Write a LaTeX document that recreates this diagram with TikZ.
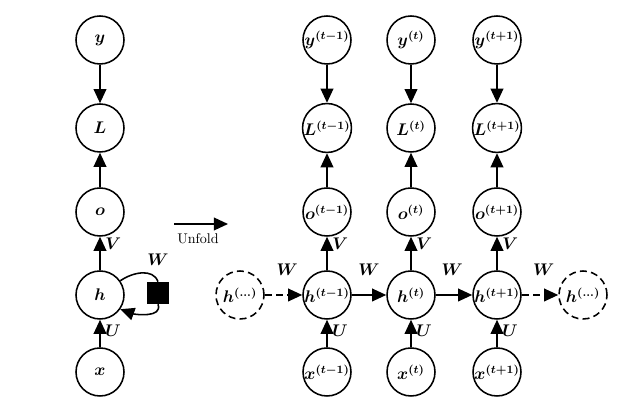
\documentclass[tikz,border=0pt]{standalone}
\usepackage{amsmath}
\usepackage{bm}
\usetikzlibrary{
    arrows.meta,
    positioning
}
\tikzset{
    unit/.style={circle, draw, line width=1.1pt, minimum size=1.2cm, inner sep=0pt, font=\large},
    ghost/.style={unit, dash pattern=on 5pt off 3pt},
    flow/.style={line width=1.1pt, -{Triangle[length=10pt,width=9pt]}},
    lbl/.style={font=\large}
}
\begin{document}
\begin{tikzpicture}
                                \useasboundingbox (0, 0) rectangle (16.1, 10.4);
                                % folded graph
                                \node[unit] (y) at (2.5, 9.4) {$\bm{y}$};
                                \node[unit] (L) at (2.5, 7.2) {$\bm{L}$};
                                \node[unit] (o) at (2.5, 5.1) {$\bm{o}$};
                                \node[unit] (h) at (2.5, 3.025) {$\bm{h}$};
                                \node[unit] (x) at (2.5, 1.1) {$\bm{x}$};
                                \node[fill, minimum size=0.55cm, inner sep=0pt] (sq) at (3.95, 3.075) {};
                                \draw[flow] (y) -- (L);
                                \draw[flow] (o) -- (L);
                                \draw[flow] (h) -- node[lbl, right, pos=0.8] {$\bm{V}$} (o);
                                \draw[flow] (x) -- node[lbl, right, pos=0.6] {$\bm{U}$} (h);
                                \draw[line width=1.1pt] (h.35) to[out=35, in=110] (sq.north);
                                \draw[flow] (sq.south) to[out=-70, in=-20] (h.-35);
                                \node[lbl] (wl) at (3.95, 3.9) {$\bm{W}$};
                                % unfold arrow
                                \coordinate (ua) at (4.35, 4.8);
                                \coordinate (ub) at (5.7, 4.8);
                                \draw[flow] (ua) -- (ub);
                                \node[below=3pt of ua, xshift=0.6cm] (unf) {Unfold};
                                % unfolded graph
                                \node[ghost] (hl) at (6.0, 3.025) {$\bm{h}^{\bm{(\ldots)}}$};
                                \node[ghost] (hr) at (14.575, 3.025) {$\bm{h}^{\bm{(\ldots)}}$};
                                \foreach \n/\px/\s in {a/8.175/t-1, b/10.275/t, c/12.425/t+1} {
                                    \node[unit] (y\n) at (\px, 9.4) {$\bm{y}^{\bm{(\s)}}$};
                                    \node[unit] (L\n) at (\px, 7.2) {$\bm{L}^{\bm{(\s)}}$};
                                    \node[unit] (o\n) at (\px, 5.1) {$\bm{o}^{\bm{(\s)}}$};
                                    \node[unit] (h\n) at (\px, 3.025) {$\bm{h}^{\bm{(\s)}}$};
                                    \node[unit] (x\n) at (\px, 1.1) {$\bm{x}^{\bm{(\s)}}$};
                                    \draw[flow] (y\n) -- (L\n);
                                    \draw[flow] (o\n) -- (L\n);
                                    \draw[flow] (h\n) -- node[lbl, right, pos=0.8] {$\bm{V}$} (o\n);
                                    \draw[flow] (x\n) -- node[lbl, right, pos=0.6] {$\bm{U}$} (h\n);
                                }
                                \draw[flow, dash pattern=on 5pt off 3pt] (hl) -- node[lbl, above=10pt, pos=0.6] {$\bm{W}$} (ha);
                                \draw[flow] (ha) -- node[lbl, above=10pt] {$\bm{W}$} (hb);
                                \draw[flow] (hb) -- node[lbl, above=10pt, pos=0.45] {$\bm{W}$} (hc);
                                \draw[flow, dash pattern=on 5pt off 3pt] (hc) -- node[lbl, above=10pt, pos=0.6] {$\bm{W}$} (hr);
                            \end{tikzpicture}
\end{document}
